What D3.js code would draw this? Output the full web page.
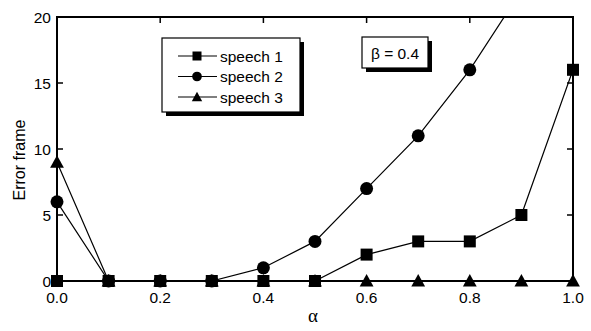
<!DOCTYPE html>
<html>
<head>
<meta charset="utf-8">
<script src="https://cdn.jsdelivr.net/npm/d3@7"></script>
<style>
  body { margin: 0; background: #fff; }
  svg { display: block; font-family: Arial, "Liberation Sans", sans-serif; }
</style>
</head>
<body>
<svg id="chart" width="591" height="331"></svg>
<script>
// data
const alphas = [0.0, 0.1, 0.2, 0.3, 0.4, 0.5, 0.6, 0.7, 0.8, 0.9, 1.0];
const speech1 = [0, 0, 0, 0, 0, 0, 2, 3, 3, 5, 16];
const speech2 = [6, 0, 0, 0, 1, 3, 7, 11, 16, 22, 29];
const speech3 = [9, 0, 0, 0, 0, 0, 0, 0, 0, 0, 0];
const seriesNames = ['speech 1', 'speech 2', 'speech 3'];
const seriesShapes = ['square', 'circle', 'triangle'];
const xTicks = [0.0, 0.2, 0.4, 0.6, 0.8, 1.0];
const yTicks = [0, 5, 10, 15, 20];

const svg = d3.select('#chart');
const margin = { left: 57, right: 18, top: 17, bottom: 50 };
const W = 591, H = 331;

const x = d3.scaleLinear().domain([0, 1]).range([margin.left, W - margin.right]);
const y = d3.scaleLinear().domain([0, 20]).range([H - margin.bottom, margin.top]);

svg.append('defs').append('clipPath').attr('id', 'plotclip')
  .append('rect')
  .attr('x', x(0)).attr('y', y(20))
  .attr('width', x(1) - x(0)).attr('height', y(0) - y(20));

// s = half size of the marker
function marker(sel, shape, cx, cy, s) {
  if (shape === 'square') {
    sel.append('rect').attr('x', cx - s).attr('y', cy - s).attr('width', 2 * s).attr('height', 2 * s).attr('fill', '#000');
  } else if (shape === 'circle') {
    sel.append('circle').attr('cx', cx).attr('cy', cy).attr('r', s * 1.08).attr('fill', '#000');
  } else {
    const t = s * 1.15;
    sel.append('path')
      .attr('d', 'M' + cx + ',' + (cy - t) + 'L' + (cx + t) + ',' + (cy + t * 0.8) + 'L' + (cx - t) + ',' + (cy + t * 0.8) + 'Z')
      .attr('fill', '#000');
  }
}

// series
const allSeries = [speech1, speech2, speech3];
const line = d3.line().x(function (d) { return x(d[0]); }).y(function (d) { return y(d[1]); });
const plot = svg.append('g').attr('clip-path', 'url(#plotclip)');
allSeries.forEach(function (vals) {
  const pts = alphas.map(function (a, i) { return [a, vals[i]]; });
  plot.append('path').datum(pts).attr('d', line)
    .attr('fill', 'none').attr('stroke', '#000').attr('stroke-width', 1.2);
});
// markers, only the ones inside the y range
const marks = svg.append('g');
[2, 0, 1].forEach(function (si) {
  alphas.forEach(function (a, i) {
    const v = allSeries[si][i];
    if (v <= 20) marker(marks, seriesShapes[si], x(a), y(v), 6);
  });
});

// frame
svg.append('rect')
  .attr('x', x(0)).attr('y', y(20))
  .attr('width', x(1) - x(0)).attr('height', y(0) - y(20))
  .attr('fill', 'none').attr('stroke', '#000').attr('stroke-width', 2);

// inward ticks
const ticks = svg.append('g').attr('stroke', '#000').attr('stroke-width', 1.5);
xTicks.forEach(function (t) {
  ticks.append('line').attr('x1', x(t)).attr('x2', x(t)).attr('y1', y(20)).attr('y2', y(20) + 6);
});
yTicks.forEach(function (t) {
  ticks.append('line').attr('x1', x(0)).attr('x2', x(0) + 6).attr('y1', y(t)).attr('y2', y(t));
  ticks.append('line').attr('x1', x(1)).attr('x2', x(1) - 6).attr('y1', y(t)).attr('y2', y(t));
});

// tick labels
svg.append('g').selectAll('text').data(xTicks).join('text')
  .attr('x', function (d) { return x(d); }).attr('y', y(0) + 22)
  .attr('text-anchor', 'middle').attr('font-size', 15.5)
  .text(function (d) { return d3.format('.1f')(d); });
svg.append('g').selectAll('text').data(yTicks).join('text')
  .attr('x', x(0) - 6).attr('y', function (d) { return y(d); }).attr('dy', '0.36em')
  .attr('text-anchor', 'end').attr('font-size', 15.5)
  .text(function (d) { return d; });

// axis titles
svg.append('text')
  .attr('transform', 'translate(25,' + 160 + ') rotate(-90)')
  .attr('text-anchor', 'middle').attr('font-size', 16)
  .text('Error frame');
svg.append('text')
  .attr('x', 313).attr('y', 322)
  .attr('text-anchor', 'middle').attr('font-size', 19)
  .attr('font-family', '"Liberation Serif", "DejaVu Serif", serif')
  .text('α');

// legend box with shadow
const leg = svg.append('g');
leg.append('rect').attr('x', 166).attr('y', 42).attr('width', 138).attr('height', 74).attr('fill', '#000');
leg.append('rect').attr('x', 162).attr('y', 38).attr('width', 138).attr('height', 74)
  .attr('fill', '#fff').attr('stroke', '#000').attr('stroke-width', 1.2);
seriesNames.forEach(function (name, i) {
  const ry = 56 + i * 20.5;
  leg.append('line').attr('x1', 178).attr('x2', 217).attr('y1', ry).attr('y2', ry)
    .attr('stroke', '#000').attr('stroke-width', 1.2);
  marker(leg, seriesShapes[i], 197, ry, 4.5);
  leg.append('text').attr('x', 220).attr('y', ry).attr('dy', '0.36em')
    .attr('font-size', 15.5).text(name);
});

// beta box
const bb = svg.append('g');
bb.append('rect').attr('x', 366).attr('y', 41).attr('width', 66).attr('height', 31).attr('fill', '#000');
bb.append('rect').attr('x', 362).attr('y', 37).attr('width', 66).attr('height', 31)
  .attr('fill', '#fff').attr('stroke', '#000').attr('stroke-width', 1.2);
bb.append('text').attr('x', 395).attr('y', 53).attr('dy', '0.36em')
  .attr('text-anchor', 'middle').attr('font-size', 15.5).text('β = 0.4');
</script>
</body>
</html>
